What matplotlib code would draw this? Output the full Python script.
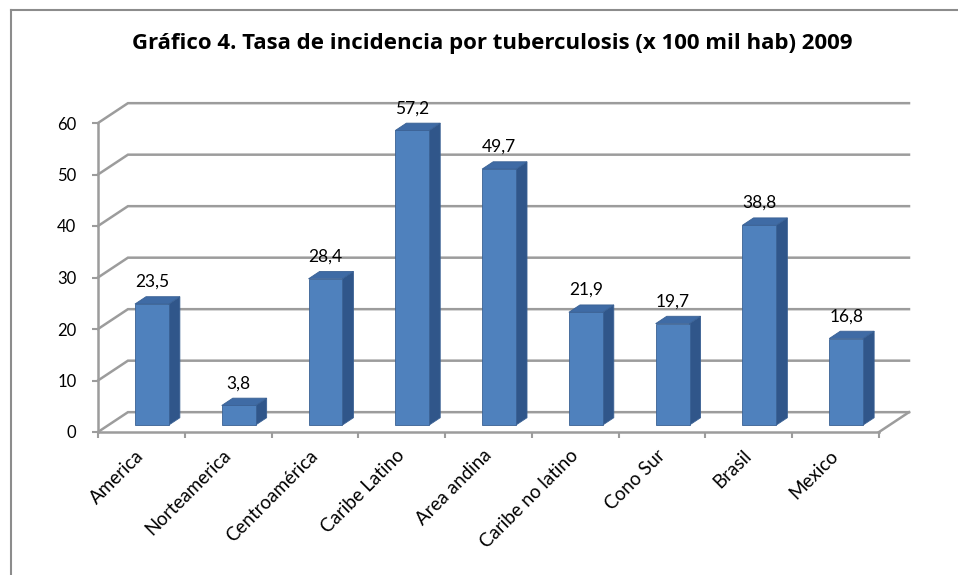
import matplotlib

matplotlib.use("Agg")
import matplotlib.pyplot as plt
from matplotlib.patches import Polygon
from matplotlib.lines import Line2D

# datos del gráfico
categorias = [
    "America",
    "Norteamerica",
    "Centroamérica",
    "Caribe Latino",
    "Area andina",
    "Caribe no latino",
    "Cono Sur",
    "Brasil",
    "Mexico",
]
tasas = [23.5, 3.8, 28.4, 57.2, 49.7, 21.9, 19.7, 38.8, 16.8]
yticks = [0, 10, 20, 30, 40, 50, 60]
titulo = "Gráfico 4. Tasa de incidencia por tuberculosis (x 100 mil hab) 2009"

plt.rcParams["font.family"] = ["Lato", "DejaVu Sans"]

# profundidad del "3D" en unidades de datos
DX, DY = 0.345, 3.85
F0, F1 = 0.35, 0.72  # profundidad delantera / trasera de las barras
ANCHO = 0.39
GRIS = "#9C9C9C"
n = len(categorias)

fig = plt.figure(figsize=(9.58, 5.75), dpi=100)
ax = fig.add_axes([98 / 958, 143 / 575, 811 / 958, 329.6 / 575])
ax.set_xlim(0, n + DX)
ax.set_ylim(0, 64)
ax.set_facecolor("none")

# paredes y grilla
for v in yticks:
    ax.plot([0, DX, n + DX], [v, v + DY, v + DY], color=GRIS, lw=1.8,
            clip_on=False, zorder=1, solid_joinstyle="miter")
ax.plot([n, n + DX], [0, DY], color=GRIS, lw=1.8, clip_on=False, zorder=1)

# barras
for i, v in enumerate(tasas):
    x0 = i + 0.5 - ANCHO / 2 + F0 * DX
    x1 = x0 + ANCHO
    y0 = F0 * DY
    ddx = (F1 - F0) * DX
    ddy = (F1 - F0) * DY
    frente = [(x0, y0), (x1, y0), (x1, y0 + v), (x0, y0 + v)]
    lado = [(x1, y0), (x1 + ddx, y0 + ddy), (x1 + ddx, y0 + ddy + v), (x1, y0 + v)]
    tapa = [(x0, y0 + v), (x1, y0 + v), (x1 + ddx, y0 + ddy + v), (x0 + ddx, y0 + ddy + v)]
    for pts, col in ((lado, "#30568A"), (tapa, "#3F6BA5"), (frente, "#4F81BD")):
        ax.add_patch(Polygon(pts, closed=True, facecolor=col, edgecolor="#3A6194",
                             lw=0.6, zorder=3, clip_on=False))
    ax.annotate(f"{v:.1f}".replace(".", ","), xy=((x0 + x1) / 2, y0 + ddy + v),
                xytext=(0, 5), textcoords="offset points", ha="center", va="bottom",
                fontsize=12.5, zorder=5)

# ejes
for s in ("top", "right"):
    ax.spines[s].set_visible(False)
for s in ("left", "bottom"):
    ax.spines[s].set_color(GRIS)
    ax.spines[s].set_linewidth(1.8)
    ax.spines[s].set_zorder(2)
ax.spines["left"].set_bounds(0, 60)
ax.spines["bottom"].set_bounds(0, n)

ax.set_yticks(yticks)
ax.set_yticklabels([str(t) for t in yticks])
ax.tick_params(axis="y", length=4.5, width=1.5, color=GRIS, pad=11, labelsize=12)

ax.set_xticks(range(n + 1))
ax.set_xticklabels([])
ax.set_xticks([i + 0.5 for i in range(n)], minor=True)
ax.set_xticklabels(categorias, minor=True)
ax.tick_params(axis="x", which="major", length=4.5, width=1.5, color=GRIS)
ax.tick_params(axis="x", which="minor", length=0, pad=15, labelsize=13.5)
for lbl in ax.get_xticklabels(minor=True):
    lbl.set_rotation(45)
    lbl.set_ha("right")
    lbl.set_va("center")
    lbl.set_rotation_mode("anchor")

fig.text(492 / 958, 1 - 44 / 575, titulo, ha="center", va="center",
         fontsize=16, fontweight="bold", family=["Open Sans", "DejaVu Sans"])

# marco del gráfico
fig.add_artist(Line2D([11 / 958, 11 / 958], [0, 1 - 10 / 575], color="#8C8C8C",
                      lw=1.5, transform=fig.transFigure))
fig.add_artist(Line2D([11 / 958, 1], [1 - 10 / 575, 1 - 10 / 575], color="#8C8C8C",
                      lw=1.5, transform=fig.transFigure))

fig.savefig("out.png", dpi=100)
plt.close(fig)
